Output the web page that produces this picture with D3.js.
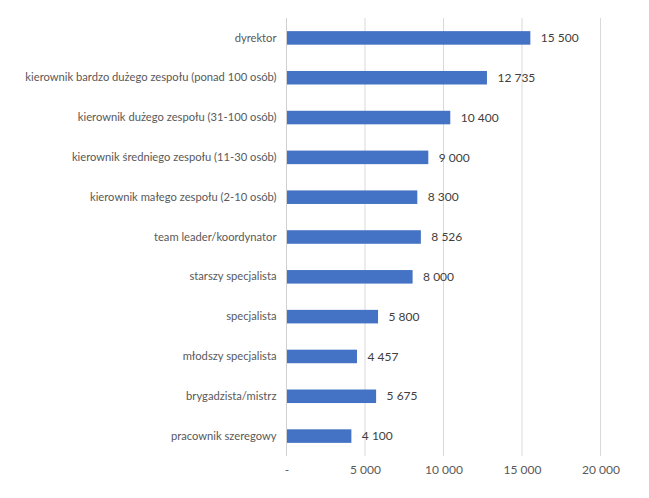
<!DOCTYPE html>
<html>
<head>
<meta charset="utf-8">
<script src="https://cdn.jsdelivr.net/npm/d3@7"></script>
<style>
  body { margin: 0; background: #fff; }
  svg text { font-family: Lato, "Open Sans", sans-serif; }
</style>
</head>
<body>
<svg></svg>
<script>
// chart data
const categories = [
  'dyrektor',
  'kierownik bardzo dużego zespołu (ponad 100 osób)',
  'kierownik dużego zespołu (31-100 osób)',
  'kierownik średniego zespołu (11-30 osób)',
  'kierownik małego zespołu (2-10 osób)',
  'team leader/koordynator',
  'starszy specjalista',
  'specjalista',
  'młodszy specjalista',
  'brygadzista/mistrz',
  'pracownik szeregowy'
]
const values = [15500, 12735, 10400, 9000, 8300, 8526, 8000, 5800, 4457, 5675, 4100]
const ticks = [0, 5000, 10000, 15000, 20000]
const tickLabels = ['-', '5 000', '10 000', '15 000', '20 000']

// plot area
const svgWidth = 649
const svgHeight = 498
const plotLeft = 286.5
const plotRight = 600.5
const plotTop = 18
const plotBottom = 456

const svg = d3.select('svg')
.attr('width', svgWidth)
.attr('height', svgHeight)

const xScale = d3.scaleLinear()
.domain([0, 20000])
.range([plotLeft, plotRight])

const yScale = d3.scaleBand()
.domain(categories)
.range([plotTop, plotBottom])
.paddingInner(0.66)
.paddingOuter(0.33)

const fmt = function(d) {
  return d3.format(',')(d).replace(/,/g, ' ')
}

// gridlines
svg.append('g')
.selectAll('line')
.data(ticks.slice(1))
.enter()
.append('line')
.attr('x1', d => xScale(d))
.attr('x2', d => xScale(d))
.attr('y1', plotTop)
.attr('y2', plotBottom)
.attr('stroke', '#d9d9d9')
.attr('stroke-width', 1)

// x axis
const x_axis = d3.axisBottom(xScale)
.tickValues(ticks)
.tickFormat((d, i) => tickLabels[i])
.tickSize(0)
.tickPadding(9)
const gx = svg.append('g')
.attr('transform', 'translate(0, ' + plotBottom + ')')
.call(x_axis)
gx.select('.domain').remove()
gx.selectAll('text')
.attr('font-size', 12)
.attr('fill', '#595959')
.style('font-family', 'Lato, sans-serif')

// y axis
const y_axis = d3.axisLeft(yScale)
.tickSize(0)
.tickPadding(10)
const gy = svg.append('g')
.attr('transform', 'translate(' + plotLeft + ', 0)')
.call(y_axis)
gy.select('.domain').attr('stroke', '#d0d0d0').attr('d', 'M0,' + plotTop + 'V' + plotBottom)
gy.selectAll('text')
.attr('font-size', 11.2)
.attr('fill', '#595959')
.style('font-family', 'Lato, sans-serif')

// bars
svg.append('g')
.selectAll('rect')
.data(values)
.enter()
.append('rect')
.attr('x', xScale(0) + 0.5)
.attr('y', (d, i) => yScale(categories[i]))
.attr('width', d => xScale(d) - xScale(0))
.attr('height', yScale.bandwidth())
.attr('fill', '#4472c4')

// value labels
svg.append('g')
.selectAll('text')
.data(values)
.enter()
.append('text')
.text(d => fmt(d))
.attr('x', d => xScale(d) + 11)
.attr('y', (d, i) => yScale(categories[i]) + yScale.bandwidth() / 2)
.attr('dy', '0.35em')
.attr('font-size', 12)
.attr('fill', '#404040')
</script>
</body>
</html>
